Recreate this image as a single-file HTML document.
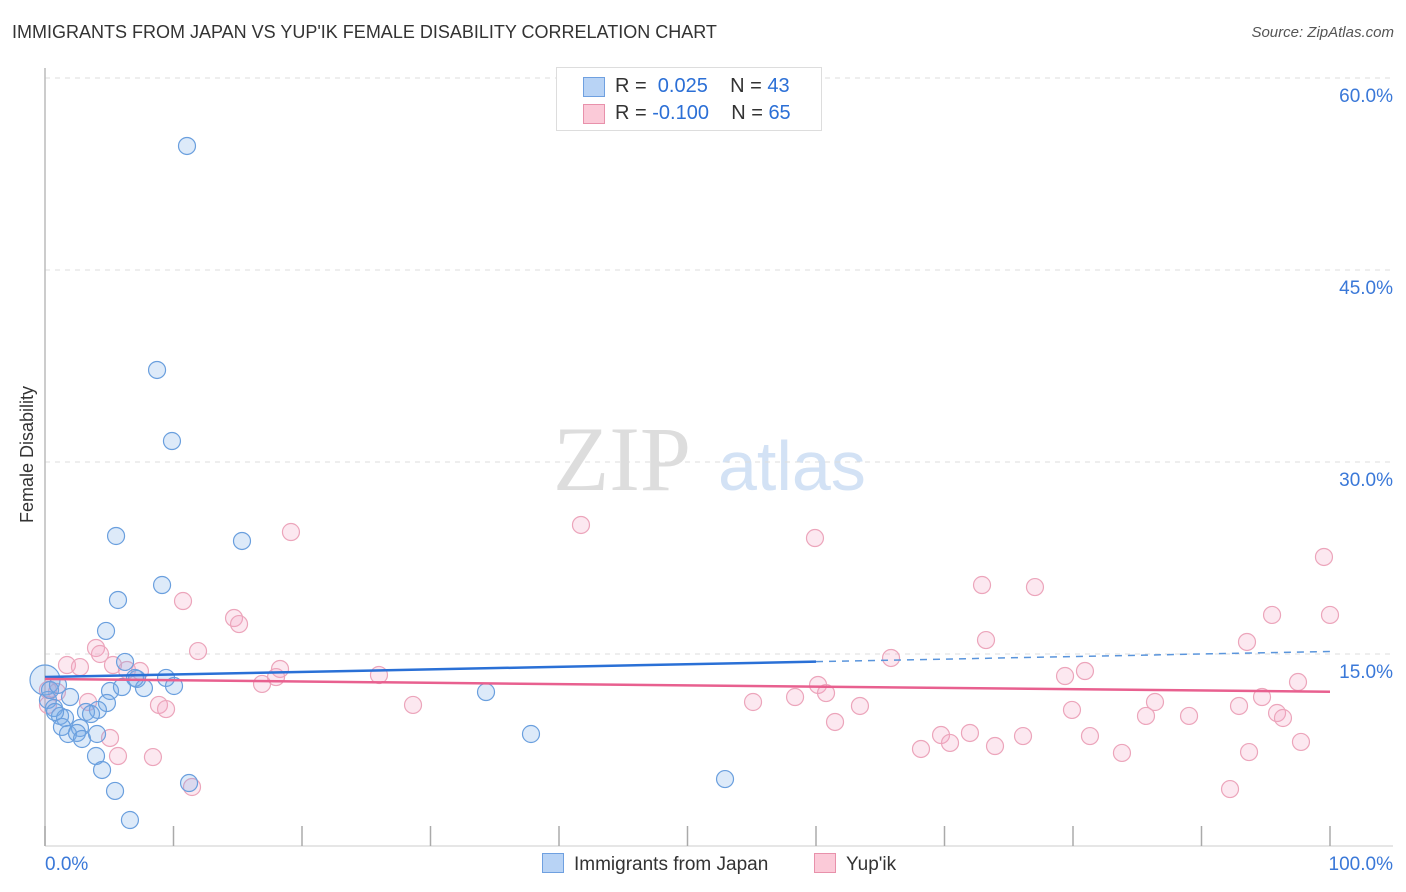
<!DOCTYPE html>
<html><head><meta charset="utf-8">
<style>
body{margin:0;background:#fff;font-family:"Liberation Sans",sans-serif;}
#wrap{position:relative;width:1406px;height:892px;overflow:hidden;}
.t{position:absolute;white-space:nowrap;}
</style></head>
<body><div id="wrap">
<div class="t" style="left:12px;top:22px;font-size:18px;color:#333;">IMMIGRANTS FROM JAPAN VS YUP'IK FEMALE DISABILITY CORRELATION CHART</div>
<div class="t" style="right:12px;top:24px;font-size:15px;color:#555;font-style:italic;">Source: ZipAtlas.com</div>
<div class="t" style="left:-41px;top:444px;font-size:18px;color:#333;transform:rotate(-90deg);">Female Disability</div>
<svg id="svg" width="1406" height="892" style="position:absolute;left:0;top:0;"></svg>
<div style="position:absolute;left:556px;top:67px;width:264px;height:62px;border:1px solid #ddd;background:#fff;font-size:20px;">
 <div style="position:absolute;left:26px;top:9px;width:20px;height:18px;background:#b8d3f5;border:1px solid #6fa0e0;"></div>
 <div class="t" style="left:58px;top:7px;color:#333;">R = <span style="color:#2b6fd6">&nbsp;0.025</span>&nbsp;&nbsp;&nbsp; N = <span style="color:#2b6fd6">43</span></div>
 <div style="position:absolute;left:26px;top:36px;width:20px;height:18px;background:#fbcad8;border:1px solid #e891ab;"></div>
 <div class="t" style="left:58px;top:34px;color:#333;">R = <span style="color:#2b6fd6">-0.100</span>&nbsp;&nbsp;&nbsp; N = <span style="color:#2b6fd6">65</span></div>
</div>
<div class="t" style="left:542px;top:853px;font-size:19px;color:#333;"><span style="display:inline-block;width:20px;height:18px;background:#b8d3f5;border:1px solid #6fa0e0;vertical-align:-3px;margin-right:10px;"></span>Immigrants from Japan</div>
<div class="t" style="left:814px;top:853px;font-size:19px;color:#333;"><span style="display:inline-block;width:20px;height:18px;background:#fbcad8;border:1px solid #e891ab;vertical-align:-3px;margin-right:10px;"></span>Yup'ik</div>
</div>
<script>
const blueX=[11.05,8.72,9.88,5.53,15.33,9.11,5.68,4.75,6.23,9.42,7.16,5.06,5.99,7.70,10.04,1.95,0.23,0.70,4.82,4.12,3.19,1.17,1.56,3.58,0.78,1.32,2.72,1.79,2.49,2.88,4.05,3.97,4.44,5.45,6.61,11.21,34.32,37.82,52.92,0,0.39,1.01,7.00];
const blueY=[54.69,37.19,31.64,24.22,23.83,20.39,19.22,16.80,14.38,13.13,13.05,12.11,12.42,12.34,12.50,11.64,11.41,10.78,11.17,10.63,10.47,10.16,10.00,10.31,10.47,9.30,9.22,8.75,8.83,8.36,8.75,7.03,5.94,4.30,2.03,4.92,12.03,8.75,5.23,12.97,12.19,12.58,13.13];
const pinkX=[19.14,41.71,59.92,99.53,72.92,77.04,10.74,95.49,100,14.71,15.10,73.23,93.54,3.97,11.91,4.28,1.71,2.72,5.29,6.38,7.39,65.84,18.29,17.98,25.99,79.38,80.93,16.89,60.16,60.78,97.51,58.37,0.23,0.93,3.35,55.10,63.42,86.38,94.71,28.64,8.87,9.42,79.92,85.68,89.03,92.92,95.88,96.34,61.48,71.98,69.73,76.11,81.32,68.17,70.43,73.93,83.81,93.70,97.74,5.06,5.68,8.40,11.44,92.22,0.23];
const pinkY=[24.53,25.08,24.06,22.58,20.39,20.23,19.14,18.05,18.05,17.81,17.34,16.09,15.94,15.47,15.23,15.00,14.14,13.98,14.14,13.75,13.67,14.69,13.83,13.20,13.36,13.28,13.67,12.66,12.58,11.95,12.81,11.64,12.19,12.03,11.25,11.25,10.94,11.25,11.64,11.02,11.02,10.70,10.63,10.16,10.16,10.94,10.39,10.00,9.69,8.83,8.67,8.59,8.59,7.58,8.05,7.81,7.27,7.34,8.13,8.44,7.03,6.95,4.61,4.45,11.02];
const blueTrend=[13.2,15.2];
const pinkTrend=[13.05,12.05];
const yTicks=[15,30,45,60];
const yTickLabels=["15.0%","30.0%","45.0%","60.0%"];
const xTickLabels=["0.0%","100.0%"];
const NS="http://www.w3.org/2000/svg";
const svg=document.getElementById('svg');
const X=v=>45+v*12.85, Y=v=>846-v*12.8;
function mk(tag,a){const e=document.createElementNS(NS,tag);for(const k in a)e.setAttribute(k,a[k]);svg.appendChild(e);return e;}
let w=mk('text',{x:553,y:490,'font-size':92,fill:'#ddd','font-family':'Liberation Serif'});w.textContent='ZIP';


let w2=mk('text',{x:718,y:490,'font-size':70,fill:'#d3e2f5','font-family':'Liberation Sans'});w2.textContent='atlas';


yTicks.forEach((t,i)=>{
 const g=mk('line',{x1:45,x2:1393,y1:Y(t),y2:Y(t),stroke:'#ddd','stroke-dasharray':'5,5'});
 
 
 const l=mk('text',{x:1393,y:Y(t)+24,'text-anchor':'end','font-size':19,fill:'#3a78d8'});l.textContent=yTickLabels[i];
 
 
});
let ax=mk('line',{x1:45,x2:45,y1:68,y2:846,stroke:'#bbb','stroke-width':1.5});


let bx=mk('line',{x1:45,x2:1393,y1:846,y2:846,stroke:'#ccc'});


for(let i=0;i<=10;i++){const tk=mk('line',{x1:X(i*10),x2:X(i*10),y1:826,y2:846,stroke:'#aaa','stroke-width':1.5});
 
 }
let xl0=mk('text',{x:45,y:870,'font-size':19,fill:'#3a78d8'});xl0.textContent=xTickLabels[0];


let xl1=mk('text',{x:1393,y:870,'font-size':19,fill:'#3a78d8','text-anchor':'end'});xl1.textContent=xTickLabels[1];


pinkX.forEach((v,i)=>{const c=mk('circle',{cx:X(v),cy:Y(pinkY[i]),r:8.5,fill:'rgba(245,165,195,0.25)',stroke:'#eca5bb','stroke-width':1.2});
 
 });
blueX.forEach((v,i)=>{const c=mk('circle',{cx:X(v),cy:Y(blueY[i]),r:i==39?15:8.5,fill:'rgba(120,170,230,0.25)',stroke:'#6a9fde','stroke-width':1.2});
 
 });
const by=x=>blueTrend[0]+(blueTrend[1]-blueTrend[0])*x/100;
let bl=mk('line',{x1:X(0),y1:Y(by(0)),x2:X(60),y2:Y(by(60)),stroke:'#2a70d6','stroke-width':2.5});


let bd=mk('line',{x1:X(60),y1:Y(by(60)),x2:X(100),y2:Y(by(100)),stroke:'#5a95dc','stroke-width':1.5,'stroke-dasharray':'7,6'});


let pl=mk('line',{x1:X(0),y1:Y(pinkTrend[0]),x2:X(100),y2:Y(pinkTrend[1]),stroke:'#e8608f','stroke-width':2.5});


</script>
</body></html>
